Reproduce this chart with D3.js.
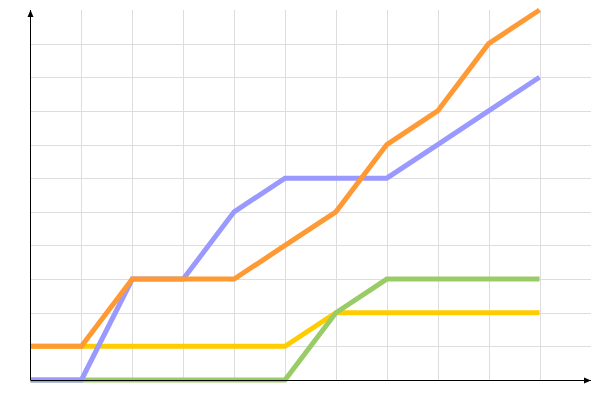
<!DOCTYPE html>
<html>
<head>
<meta charset="utf-8">
<script src="https://cdn.jsdelivr.net/npm/d3@7"></script>
<style>
  body { margin: 0; background: #fff; }
</style>
</head>
<body>
<svg id="chart" width="600" height="400"></svg>
<script>
const steps = [0, 1, 2, 3, 4, 5, 6, 7, 8, 9, 10];
const yellowVals = [1, 1, 1, 1, 1, 1, 2, 2, 2, 2, 2];
const greenVals  = [0, 0, 0, 0, 0, 0, 2, 3, 3, 3, 3];
const blueVals   = [0, 0, 3, 3, 5, 6, 6, 6, 7, 8, 9];
const orangeVals = [1, 1, 3, 3, 3, 4, 5, 7, 8, 10, 11];

const series = [
    { name: 'yellow', values: yellowVals, color: '#ffcc00' },
    { name: 'green', values: greenVals, color: '#99cc66' },
    { name: 'blue', values: blueVals, color: '#9999ff' },
    { name: 'orange', values: orangeVals, color: '#ff9933' }
];

const svg = d3.select('#chart');
const plot = { left: 30.5, right: 591, top: 10, bottom: 380 };

const x = d3.scaleLinear().domain([0, 10]).range([plot.left, 539.5]);
const y = d3.scaleLinear().domain([0, 11]).range([plot.bottom, plot.top]);

// grid
const grid = svg.append('g').attr('stroke', '#dddddd').attr('stroke-width', 1);
grid.selectAll('line.v')
    .data(steps.slice(1))
    .enter().append('line')
    .attr('class', 'v')
    .attr('x1', d => Math.round(x(d)) + 0.5).attr('x2', d => Math.round(x(d)) + 0.5)
    .attr('y1', plot.top).attr('y2', plot.bottom);
grid.selectAll('line.h')
    .data(d3.range(1, 11))
    .enter().append('line')
    .attr('class', 'h')
    .attr('x1', plot.left).attr('x2', plot.right)
    .attr('y1', d => Math.round(y(d)) + 0.5).attr('y2', d => Math.round(y(d)) + 0.5);

// lines
const line = d3.line()
    .x((d, i) => x(steps[i]))
    .y(d => y(d));

svg.append('g').selectAll('path')
    .data(series)
    .enter().append('path')
    .attr('d', d => line(d.values))
    .attr('fill', 'none')
    .attr('stroke', d => d.color)
    .attr('stroke-width', 5)
    .attr('stroke-linejoin', 'miter');

// axes with arrow heads
const axes = svg.append('g').attr('stroke', '#000').attr('stroke-width', 1);
axes.append('line').attr('x1', plot.left).attr('x2', plot.left).attr('y1', plot.bottom).attr('y2', plot.top);
axes.append('line').attr('x1', plot.left).attr('x2', plot.right).attr('y1', plot.bottom + 0.5).attr('y2', plot.bottom + 0.5);
svg.append('path')
    .attr('d', `M${plot.left - 3},${plot.top + 7} L${plot.left},${plot.top} L${plot.left + 3},${plot.top + 7} Z`)
    .attr('fill', '#000');
svg.append('path')
    .attr('d', `M${plot.right - 7},${plot.bottom + 3.5} L${plot.right},${plot.bottom + 0.5} L${plot.right - 7},${plot.bottom - 2.5} Z`)
    .attr('fill', '#000');
</script>
</body>
</html>
